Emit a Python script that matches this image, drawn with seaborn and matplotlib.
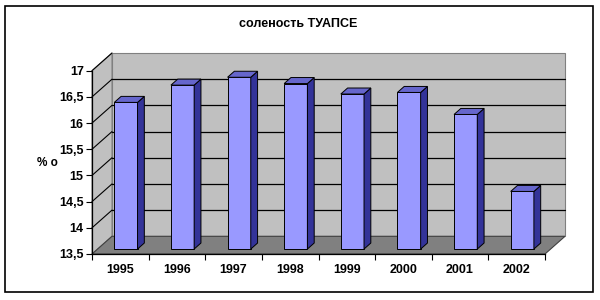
import numpy as np
import matplotlib
matplotlib.use("Agg")
import matplotlib.pyplot as plt
import seaborn as sns
from matplotlib.patches import Polygon, Rectangle
from matplotlib.lines import Line2D

# ---- data ----
years = ["1995", "1996", "1997", "1998", "1999", "2000", "2001", "2002"]
salinity = [16.30, 16.63, 16.78, 16.66, 16.46, 16.49, 16.07, 14.60]
ytick_values = [13.5, 14.0, 14.5, 15.0, 15.5, 16.0, 16.5, 17.0]
ytick_labels = ["13,5", "14", "14,5", "15", "15,5", "16", "16,5", "17"]
title = "соленость ТУАПСЕ"
ylabel = "% о"

sns.set_style("white")
plt.rcParams["font.family"] = ["Liberation Sans", "DejaVu Sans"]

W, H = 600, 300
fig = plt.figure(figsize=(6, 3), dpi=100)
fig.patch.set_facecolor("white")

ax_l, ax_b, ax_w, ax_h = 92, 46, 453, 183.3
ax = fig.add_axes([ax_l / W, ax_b / H, ax_w / W, ax_h / H])
ax.set_facecolor("none")

y0, y1 = ytick_values[0], ytick_values[-1]
x0, x1 = -0.5, len(years) - 0.5

# pixel -> data scale
sx = ax_w / (x1 - x0)
sy = ax_h / (y1 - y0)
# wall depth (px) and bar placement in depth
WDX_PX, WDY_PX = 20.0, 17.7
wdx, wdy = WDX_PX / sx, WDY_PX / sy
bar_front = 0.28      # fraction of depth where bar front face sits
bar_depth = 0.34      # bar depth as fraction of wall depth
bdx0, bdy0 = wdx * bar_front, wdy * bar_front
bdx, bdy = wdx * bar_depth, wdy * bar_depth

sns.barplot(x=years, y=salinity, color="#9999ff", saturation=1, width=0.41,
            edgecolor="black", linewidth=0.7, ax=ax, zorder=3)

ax.set_xlim(x0, x1)
ax.set_ylim(y0, y1)

bars = list(ax.patches)

# ---- walls ----
wall_c = "#c0c0c0"
floor_c = "#808080"
back = Polygon([(x0 + wdx, y0 + wdy), (x1 + wdx, y0 + wdy), (x1 + wdx, y1 + wdy),
                (x0 + wdx, y1 + wdy)], closed=True, facecolor=wall_c,
               edgecolor="#808080", lw=0.8, zorder=0.2, clip_on=False)
side = Polygon([(x0, y0), (x0, y1), (x0 + wdx, y1 + wdy), (x0 + wdx, y0 + wdy)],
               closed=True, facecolor=wall_c, edgecolor="#808080", lw=0.8,
               zorder=0.3, clip_on=False)
floor = Polygon([(x0, y0), (x1, y0), (x1 + wdx, y0 + wdy), (x0 + wdx, y0 + wdy)],
                closed=True, facecolor=floor_c, edgecolor="#404040", lw=0.8,
                zorder=0.4, clip_on=False)
for p in (back, side, floor):
    ax.add_patch(p)

for t in ytick_values[1:-1]:
    ax.add_line(Line2D([x0 + wdx, x1 + wdx], [t + wdy, t + wdy], color="black",
                       lw=0.9, zorder=0.5, clip_on=False))
for t in ytick_values[1:]:
    ax.add_line(Line2D([x0, x0 + wdx], [t, t + wdy], color="black",
                       lw=0.8, zorder=0.5, clip_on=False))

# ---- 3D bars ----
for p, v in zip(bars, salinity):
    x = p.get_x() + bdx0
    w = p.get_width()
    p.set_x(x)
    p.set_y(y0 + bdy0)
    p.set_height(v - y0)
    p.set_clip_on(False)
    top = v + bdy0
    bot = y0 + bdy0
    sidef = Polygon([(x + w, bot), (x + w, top), (x + w + bdx, top + bdy),
                     (x + w + bdx, bot + bdy)], closed=True, facecolor="#333399",
                    edgecolor="black", lw=0.7, zorder=3, clip_on=False)
    topf = Polygon([(x, top), (x + w, top), (x + w + bdx, top + bdy),
                    (x + bdx, top + bdy)], closed=True, facecolor="#6666cc",
                   edgecolor="black", lw=0.7, zorder=3, clip_on=False)
    ax.add_patch(sidef)
    ax.add_patch(topf)

# ---- axes styling ----
for s in ("top", "right"):
    ax.spines[s].set_visible(False)
for s in ("left", "bottom"):
    ax.spines[s].set_color("black")
    ax.spines[s].set_linewidth(0.9)
    ax.spines[s].set_zorder(5)

ax.set_yticks(ytick_values, ytick_labels)
ax.set_xticks(range(len(years)), years)
ax.set_xticks(np.arange(x0, x1 + 0.01, 1.0), minor=True)
ax.tick_params(axis="x", which="major", length=0, pad=7.5, labelsize=9)
ax.tick_params(axis="x", which="minor", length=4, width=0.8, color="black",
               direction="out", bottom=True)
ax.tick_params(axis="y", length=4, width=0.8, color="black", direction="out",
               left=True, pad=2, labelsize=9)
for lab in ax.get_xticklabels() + ax.get_yticklabels():
    lab.set_fontweight("bold")
    lab.set_color("black")
ax.set_xlabel("")
ax.set_ylabel("")

fig.text(0.497, 1 - 24 / H, title, ha="center", va="center",
         fontsize=9, fontweight="bold", color="black")
fig.text(47 / W, 1 - 163 / H, ylabel, ha="center", va="center",
         fontsize=8.5, fontweight="bold", color="black")

fig.add_artist(Rectangle((5 / W, 8 / H), 588 / W, 286 / H, transform=fig.transFigure,
                         fill=False, edgecolor="black", lw=1.2))

fig.savefig("out.png", dpi=100)
